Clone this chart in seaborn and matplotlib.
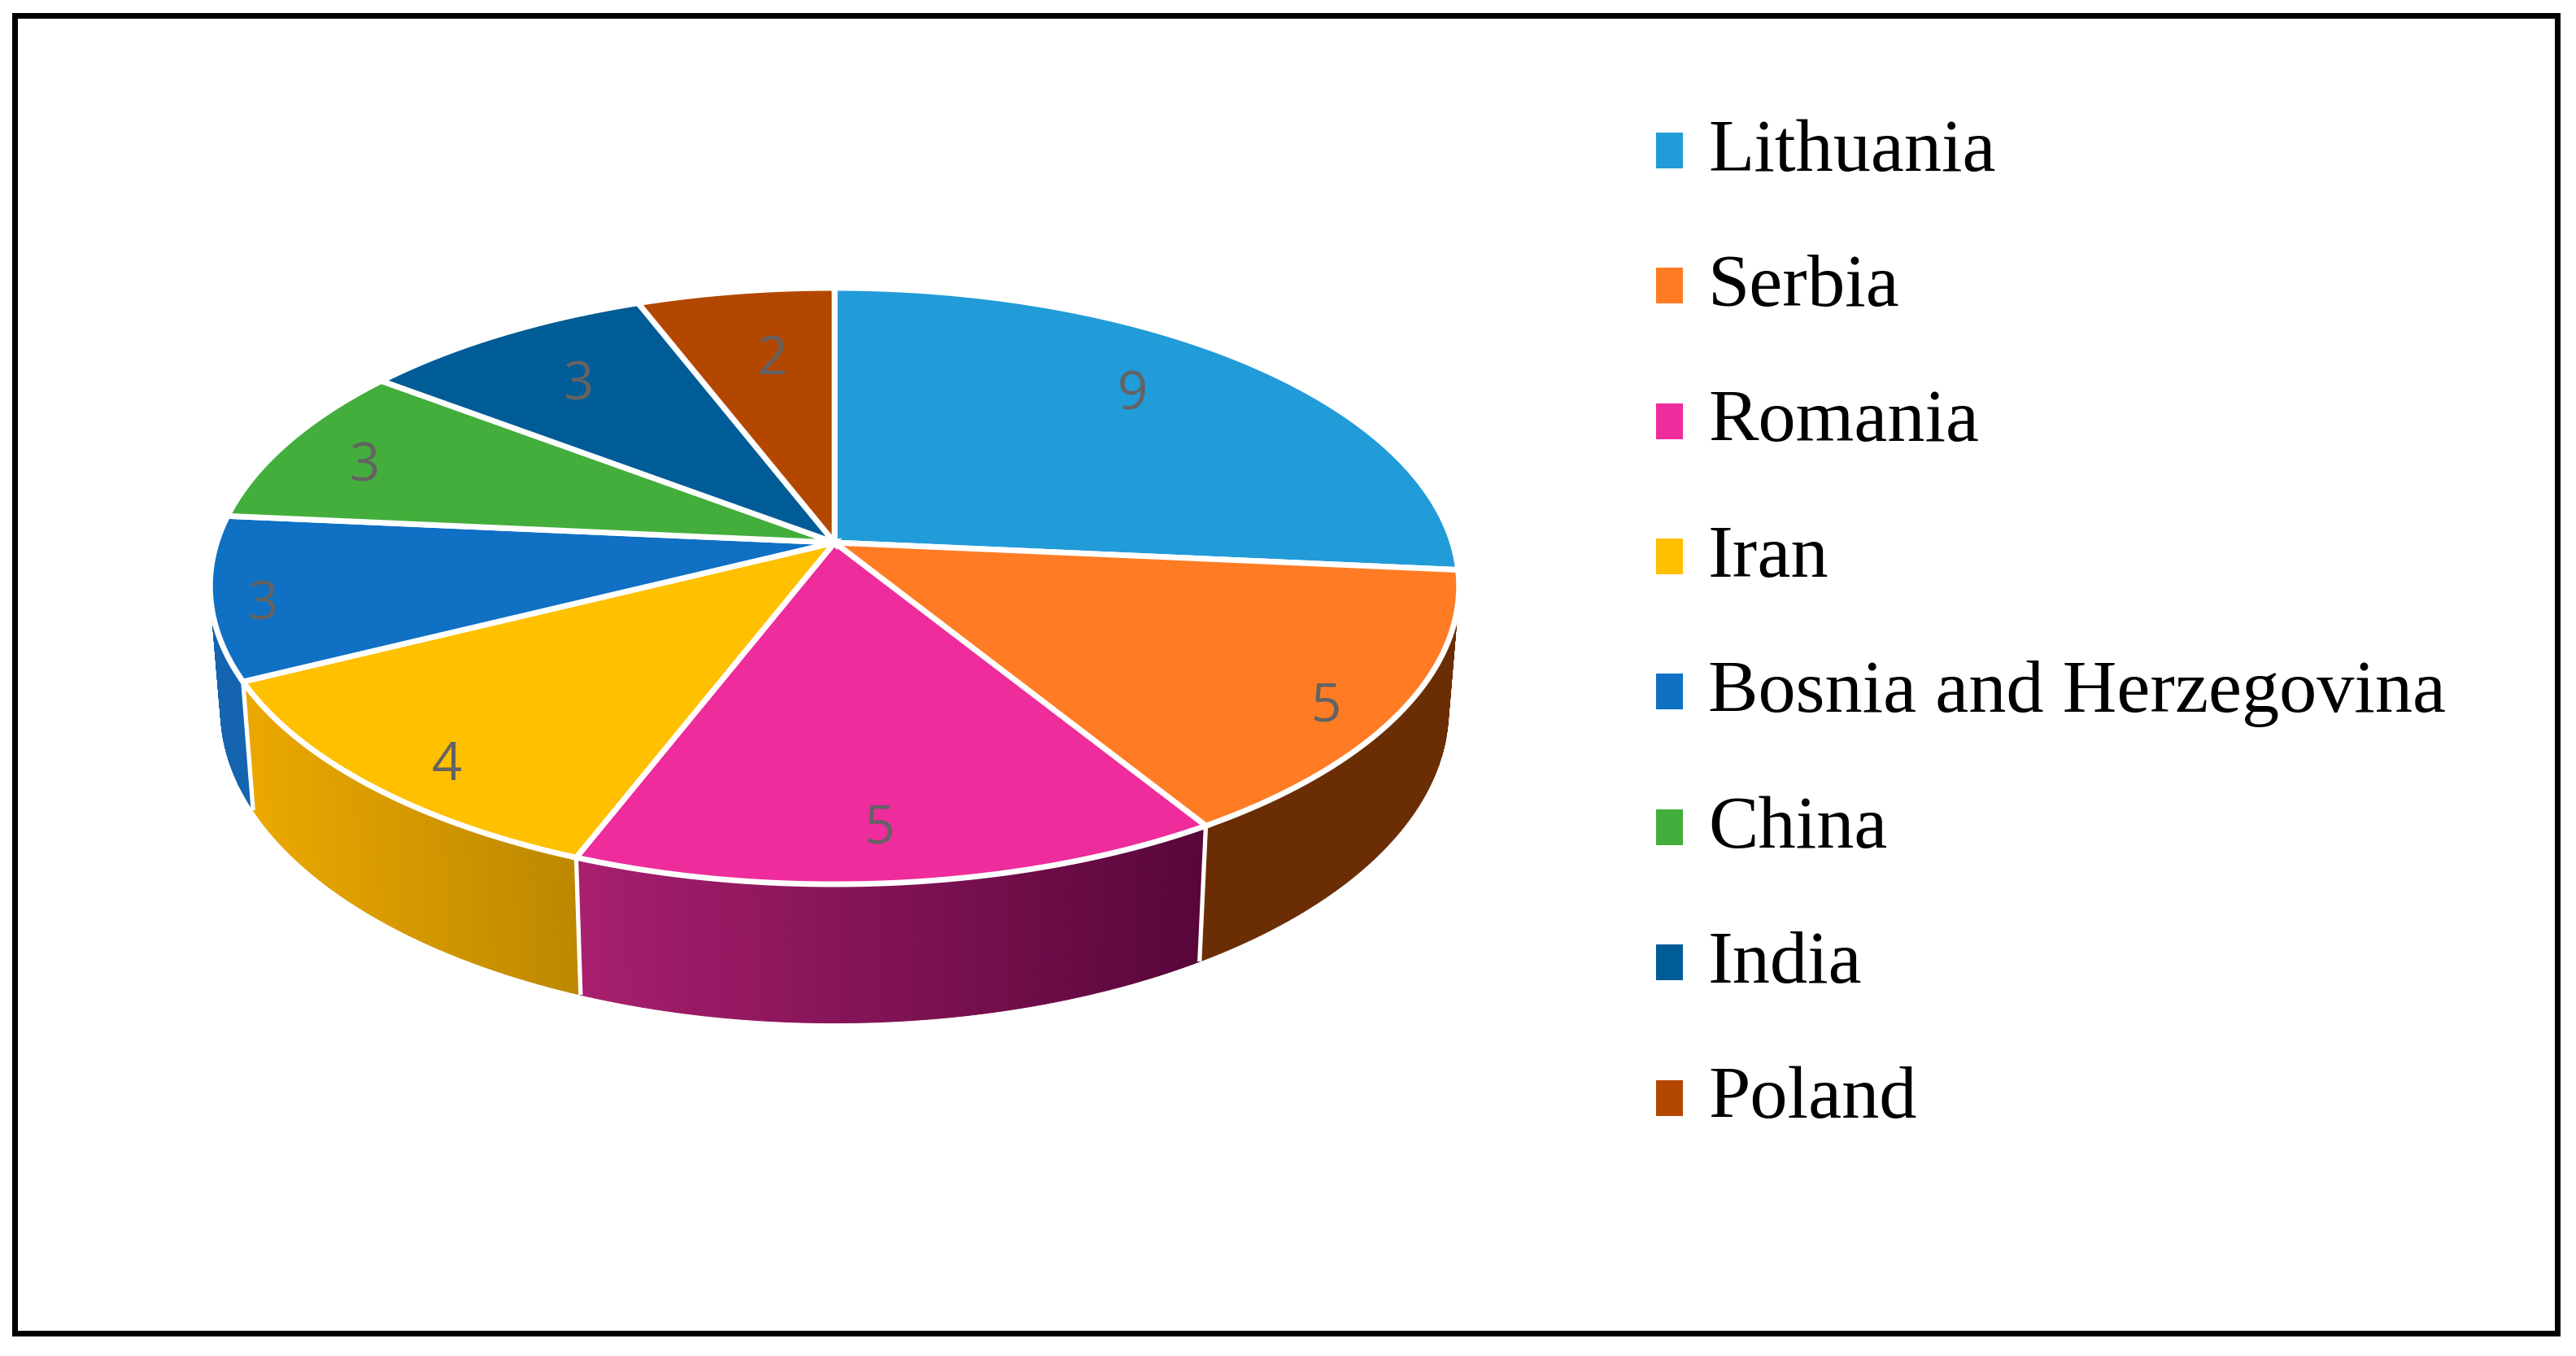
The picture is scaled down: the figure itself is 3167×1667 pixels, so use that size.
import numpy as np
import matplotlib
matplotlib.use("Agg")
import matplotlib.pyplot as plt
from matplotlib.patches import Patch
import seaborn as sns

countries = ["Lithuania", "Serbia", "Romania", "Iran", "Bosnia and Herzegovina", "China", "India", "Poland"]
counts = [9, 5, 5, 4, 3, 3, 3, 2]
top_colors = ["#229BD9", "#FF7C25", "#EE2C9C", "#FFC000", "#0F70C4", "#43AE3C", "#005C97", "#B34700"]
# wall shading: colour at left edge, colour at right edge of each visible wall
wall_left = ["#1A75A5", "#6B2D04", "#A81F6E", "#EBA800", "#1464B0", "#2E7A2A", "#004070", "#803300"]
wall_right = ["#1A75A5", "#6B2D04", "#58063A", "#BC8700", "#1464B0", "#2E7A2A", "#004070", "#803300"]

# layout (pixels)
W, H = 3167, 1667
CX, CY = 1026.0, 667.0
A, B, K = 759.5, 358.7, 0.146
X_SHRINK, Y_STRETCH, DROP = 0.983, 1.05, 149.5
label_xy = [(1392, 486), (1630, 869), (1081, 1019), (549, 942), (323, 744), (448, 574), (711, 474), (949, 443)]

sns.set_theme(style="white")
palette = sns.color_palette(top_colors)

fig = plt.figure(figsize=(W / 100, H / 100), dpi=100, facecolor="white")
ax = fig.add_axes([17.5 / W, 1 - 1638.5 / H, (3143.5 - 17.5) / W, (1638.5 - 19.5) / H])
ax.set_xlim(17.5, 3143.5)
ax.set_ylim(1638.5, 19.5)
ax.set_xticks([])
ax.set_yticks([])
for s in ax.spines.values():
    s.set_visible(True)
    s.set_color("black")
    s.set_linewidth(5.04)


def rim(theta, r=1.0):
    """Perspective image of a point on the pie disc; theta runs clockwise from 12 o'clock."""
    u, v = r * np.sin(theta), r * np.cos(theta)
    d = 1 + K * v
    return CX + A * u / d, CY - B * v / d


def lower(x, y):
    return CX + X_SHRINK * (x - CX), CY + Y_STRETCH * (y - CY) + DROP


edges = np.concatenate([[0], np.cumsum(counts)]) / np.sum(counts) * 2 * np.pi

# side walls
order = [0, 7, 6, 5, 1, 4, 3, 2]
for i in order:
    t0, t1 = edges[i], edges[i + 1]
    ts = np.linspace(t0, t1, 90)
    xs, ys = rim(ts)
    xb, yb = lower(xs, ys)
    lo, hi = min(xs.min(), xb.min()), max(xs.max(), xb.max())
    c0 = np.array(matplotlib.colors.to_rgb(wall_left[i]))
    c1 = np.array(matplotlib.colors.to_rgb(wall_right[i]))
    for j in range(len(ts) - 1):
        f = np.clip((0.5 * (xs[j] + xs[j + 1]) - lo) / (hi - lo), 0, 1)
        col = c0 + (c1 - c0) * f
        ax.fill([xs[j], xs[j + 1], xb[j + 1], xb[j]], [ys[j], ys[j + 1], yb[j + 1], yb[j]],
                facecolor=col, edgecolor=col, linewidth=0.8, zorder=2)

# white seams on the visible front wall
for i in [2, 3, 4]:
    xs, ys = rim(edges[i])
    xb, yb = lower(xs, ys)
    ax.plot([xs, xb], [ys, yb], color="white", linewidth=3.8, zorder=3, solid_capstyle="butt")

# top faces
for i, col in enumerate(palette):
    ts = np.linspace(edges[i], edges[i + 1], 120)
    xs, ys = rim(ts)
    ax.fill(np.r_[CX, xs], np.r_[CY, ys], facecolor=col, edgecolor="white", linewidth=5.0,
            joinstyle="miter", zorder=4)

for n, (x, y) in zip(counts, label_xy):
    ax.text(x, y, str(n), ha="center", va="center", fontsize=47, color="#636363",
            family="Open Sans", zorder=5)

handles = [Patch(facecolor=c, edgecolor="none", label=n) for c, n in zip(palette, countries)]
fs = 66.4
fpx = fs * 100 / 72
leg = ax.legend(handles=handles, loc="upper left", bbox_to_anchor=(2036, 1667 - 146),
                bbox_transform=matplotlib.transforms.IdentityTransform(), frameon=False,
                prop={"family": "Liberation Serif", "size": fs}, borderpad=0, borderaxespad=0,
                handlelength=33 / fpx, handleheight=33 / fpx, handletextpad=31 / fpx,
                labelspacing=0.91, labelcolor="black")
for p in leg.get_patches():
    p.set_y(p.get_y() - 6)  # points: sits lower beside the text

fig.savefig("out.png", dpi=100, facecolor="white")
